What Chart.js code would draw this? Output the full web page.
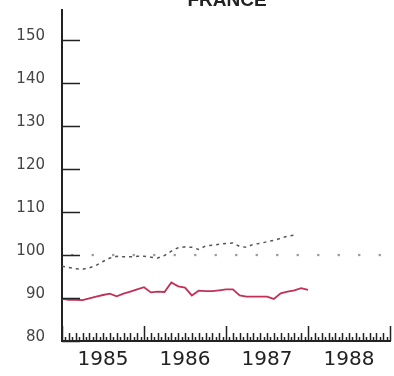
<!DOCTYPE html>
<html>
<head>
<meta charset="utf-8">
<script src="https://cdn.jsdelivr.net/npm/chart.js@4"></script>
<style>
  body { margin: 0; background: #fff; }
  #wrap { width: 394px; height: 376px; position: relative; }
</style>
</head>
<body>
<div id="wrap"><canvas id="myChart"></canvas></div>
<script>
const chartTitle = 'FRANCE';
const years = ['1985', '1986', '1987', '1988'];
const yTicks = [80, 90, 100, 110, 120, 130, 140, 150];

// monthly values, first one is January 1985
const redValues = [
    89.8, 89.6, 89.6, 89.5, 89.9, 90.3, 90.7, 91.0, 90.4, 91.0, 91.5, 92.0,
    92.5, 91.3, 91.5, 91.4, 93.6, 92.7, 92.4, 90.6, 91.7, 91.6, 91.6, 91.8,
    92.0, 92.0, 90.6, 90.3, 90.3, 90.3, 90.3, 89.8, 91.1, 91.5, 91.8, 92.3,
    91.9
];

const dashValues = [
    97.4, 97.1, 96.8, 96.7, 97.0, 97.6, 98.5, 99.3, 99.7, 99.6, 99.6, 99.7,
    99.7, 99.5, 99.3, 99.9, 100.9, 101.7, 101.9, 101.8, 101.3, 102.1, 102.3, 102.5,
    102.7, 102.8, 102.0, 101.8, 102.5, 102.7, 103.1, 103.4, 103.9, 104.4, 104.6
];

// quarterly reference dots (one per quarter, 1985-1988)
const refValues = [
    100, 100, 100, 100, 100, 100, 100, 100,
    100, 100, 100, 100, 100, 100, 100, 100
];

const ctx = document.getElementById('myChart').getContext('2d');

const axisTicks = {
    id: 'axisTicks',
    afterDraw(chart) {
        const c = chart.ctx;
        const x = chart.scales.x;
        const y = chart.scales.y;
        const base = y.getPixelForValue(yTicks[0]);
        c.save();
        c.strokeStyle = '#222';
        c.lineWidth = 1.5;
        c.beginPath();
        // half-month ticks, taller on months, tallest on years
        for (let h = 0; h <= years.length * 24; h++) {
            const px = Math.round(x.getPixelForValue(h / 2)) + 0.5;
            const len = h % 24 === 0 ? 15 : (h % 2 === 0 ? 8 : 4);
            c.moveTo(px, base);
            c.lineTo(px, base - len);
        }
        yTicks.forEach(v => {
            const py = Math.round(y.getPixelForValue(v)) + 0.5;
            c.moveTo(x.left, py);
            c.lineTo(x.left + 18, py);
        });
        c.stroke();
        c.fillStyle = '#222';
        c.font = 'bold 19px "Liberation Sans"';
        c.textAlign = 'center';
        c.textBaseline = 'alphabetic';
        c.fillText(chartTitle, 227, 6);
        c.restore();
    }
};

const myChart = new Chart(ctx, {
    type: 'line',
    data: {
        datasets: [{
            data: redValues.map((v, i) => ({ x: i, y: v })),
            borderColor: '#c23058',
            borderWidth: 1.8,
            pointRadius: 0,
            tension: 0
        }, {
            data: dashValues.map((v, i) => ({ x: i, y: v })),
            borderColor: '#555',
            borderWidth: 1.5,
            borderDash: [3, 4],
            pointRadius: 0,
            tension: 0
        }, {
            data: refValues.map((v, i) => ({ x: i * 3 + 1.5, y: v })),
            showLine: false,
            pointStyle: 'rect',
            pointRadius: 1.6,
            backgroundColor: '#999',
            borderWidth: 0
        }]
    },
    options: {
        responsive: true,
        maintainAspectRatio: false,
        animation: false,
        layout: { padding: { top: 10, right: 2, left: 0, bottom: 0 } },
        plugins: {
            legend: { display: false },
            tooltip: { enabled: false }
        },
        scales: {
            x: {
                type: 'linear',
                min: 0,
                max: years.length * 12,
                afterBuildTicks: s => { s.ticks = years.map((_, i) => ({ value: i * 12 + 6 })); },
                ticks: {
                    callback: v => years[(v - 6) / 12],
                    color: '#222',
                    font: { family: 'DejaVu Sans', size: 20 },
                    padding: 7,
                    maxRotation: 0,
                    autoSkip: false
                },
                grid: { display: false, drawTicks: false },
                border: { color: '#222', width: 2 },
                afterFit: s => {
                    s.height = 35;
                    s.paddingLeft = 0;
                    s.paddingRight = 0;
                }
            },
            y: {
                min: 80,
                max: 157,
                afterBuildTicks: s => { s.ticks = yTicks.map(v => ({ value: v })); },
                ticks: {
                    color: '#444',
                    font: { family: 'DejaVu Sans', size: 15 },
                    padding: 17,
                    labelOffset: -3.5
                },
                grid: { display: false, drawTicks: false },
                border: { color: '#222', width: 2 },
                afterFit: s => {
                    s.width = 62;
                    s.paddingTop = 0;
                    s.paddingBottom = 0;
                }
            }
        }
    },
    plugins: [axisTicks]
});
</script>
</body>
</html>
